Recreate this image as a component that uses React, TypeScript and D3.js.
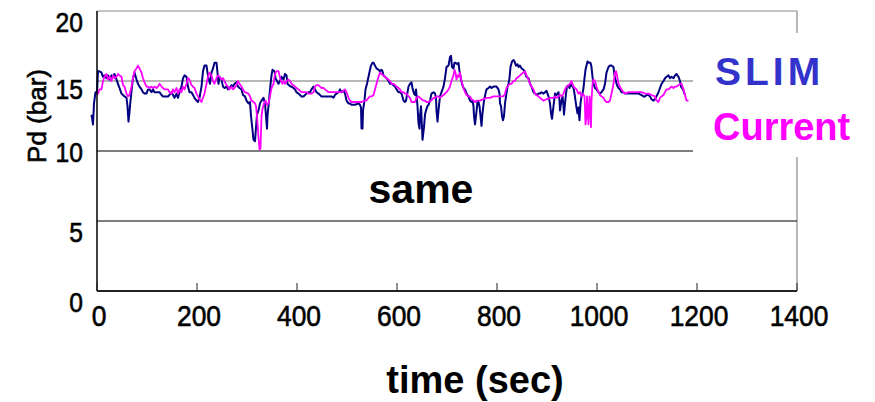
import React from 'react';
import * as d3 from 'd3';

const W = 875;
const H = 402;
const FONT = '"Liberation Sans", Arial, Helvetica, sans-serif';

// axis ticks
const xTicks = [0, 200, 400, 600, 800, 1000, 1200, 1400];
const yTicks = [0, 5, 10, 15, 20];
// the labels in the original sit a bit below their lines (10 is the odd one)
const yLabelDrop = [21, 21, 11, 18, 21];

// Pd (bar) over time (sec)
const slimPd: [number, number][] = [
  [-11, 12.6], [-8, 11.9], [-6, 13.4], [-3, 14.2], [0, 14.2], [2, 15.7], [5, 15.7], [9, 15.6], [12, 15.3], [15, 15.4],
  [19, 15.2], [22, 15.4], [25, 15.1], [29, 15.4], [32, 15.3], [35, 15.5], [39, 15.1], [42, 14.8], [45, 14.5], [49, 14.1],
  [52, 14.0], [55, 13.9], [59, 13.8], [61, 13.2], [63, 12.1], [65, 12.8], [67, 13.6], [70, 14.6], [72, 15.2], [75, 15.6],
  [79, 15.1], [82, 14.8], [85, 14.6], [89, 14.4], [92, 14.2], [95, 14.1], [99, 14.1], [102, 14.4], [105, 14.4], [109, 14.2],
  [112, 14.4], [115, 14.2], [122, 14.2], [125, 14.2], [129, 14.0], [132, 13.9], [135, 13.9], [142, 13.9], [145, 14.0], [149, 14.2],
  [152, 14.0], [155, 13.8], [159, 14.1], [162, 13.8], [165, 14.2], [169, 14.6], [172, 15.2], [175, 15.4], [179, 15.3], [182, 14.6],
  [185, 14.2], [189, 14.2], [192, 14.0], [195, 13.8], [199, 13.6], [202, 13.5], [205, 13.8], [209, 14.6], [212, 15.7], [215, 16.1],
  [219, 16.1], [221, 15.6], [223, 15.2], [226, 14.8], [229, 15.6], [232, 15.9], [235, 16.3], [239, 16.3], [241, 15.6], [243, 14.8],
  [245, 15.3], [249, 15.1], [252, 14.6], [255, 14.5], [259, 14.6], [262, 14.4], [265, 14.5], [269, 14.7], [272, 14.6], [275, 14.8],
  [279, 14.9], [282, 14.6], [285, 14.5], [289, 14.4], [292, 14.0], [296, 13.9], [299, 13.6], [303, 13.4], [306, 13.5], [308, 12.5],
  [311, 11.5], [313, 10.8], [316, 10.7], [318, 11.7], [320, 12.6], [323, 12.9], [326, 13.4], [329, 13.6], [333, 13.8], [336, 13.4],
  [338, 12.5], [340, 11.6], [341, 12.5], [344, 13.6], [346, 14.4], [349, 15.4], [351, 15.8], [355, 15.7], [357, 15.2], [360, 15.0],
  [363, 14.8], [366, 15.0], [369, 15.3], [373, 15.1], [376, 15.5], [379, 15.4], [381, 14.8], [384, 14.7], [387, 14.6], [389, 14.6],
  [393, 14.5], [396, 14.4], [399, 14.2], [403, 14.1], [406, 14.0], [409, 13.9], [413, 13.9], [416, 14.0], [419, 14.1], [423, 14.2],
  [426, 14.2], [429, 14.4], [433, 14.6], [436, 14.4], [439, 14.2], [443, 14.1], [446, 14.0], [449, 13.9], [456, 13.9], [463, 13.9],
  [469, 13.9], [473, 13.8], [476, 14.0], [479, 14.1], [483, 14.2], [486, 14.4], [489, 14.2], [493, 14.3], [496, 14.1], [499, 13.6],
  [503, 13.4], [506, 13.4], [509, 13.3], [516, 13.3], [523, 13.4], [526, 13.3], [528, 13.1], [529, 11.6], [531, 11.6], [532, 12.9],
  [535, 13.6], [537, 14.4], [540, 14.8], [543, 15.3], [546, 15.8], [548, 16.1], [551, 16.3], [553, 16.3], [556, 16.1], [559, 15.9],
  [563, 15.8], [566, 15.7], [569, 15.8], [571, 15.7], [573, 15.4], [576, 15.3], [579, 15.2], [583, 15.0], [586, 14.8], [589, 14.8],
  [593, 14.7], [596, 14.6], [599, 14.4], [603, 14.2], [606, 14.2], [609, 14.1], [613, 13.6], [616, 13.5], [618, 13.6], [621, 14.2],
  [623, 14.6], [626, 14.8], [629, 14.9], [631, 14.5], [634, 14.1], [636, 14.0], [638, 14.4], [641, 13.2], [643, 12.0], [645, 11.6],
  [646, 12.5], [648, 13.2], [650, 11.7], [651, 10.8], [654, 11.7], [656, 12.6], [658, 12.9], [661, 13.2], [663, 13.3], [666, 13.6],
  [669, 14.1], [673, 14.2], [676, 14.1], [678, 13.8], [679, 12.9], [681, 12.1], [683, 12.9], [686, 13.9], [689, 14.2], [693, 14.6],
  [696, 15.2], [699, 16.0], [703, 16.1], [705, 16.5], [706, 16.7], [708, 16.8], [710, 16.0], [713, 15.9], [715, 16.3], [717, 16.3],
  [721, 16.2], [723, 16.3], [725, 15.7], [727, 15.3], [730, 14.8], [733, 14.5], [736, 14.4], [739, 14.1], [743, 13.9], [746, 13.6],
  [749, 13.5], [751, 13.6], [753, 13.2], [754, 12.5], [756, 11.9], [758, 12.5], [761, 13.5], [763, 13.5], [765, 13.2], [767, 12.5],
  [769, 11.8], [771, 12.7], [774, 13.6], [777, 14.1], [779, 14.4], [783, 14.5], [786, 14.6], [789, 14.5], [793, 14.6], [796, 14.6],
  [799, 14.6], [803, 14.4], [805, 14.1], [806, 13.4], [808, 13.2], [810, 12.5], [812, 12.2], [814, 12.5], [816, 13.4], [818, 13.9],
  [821, 14.6], [823, 14.8], [825, 15.2], [827, 16.0], [830, 16.4], [833, 16.5], [835, 16.4], [838, 16.1], [841, 16.2], [843, 16.0],
  [846, 16.1], [849, 15.9], [853, 15.8], [856, 15.6], [859, 15.3], [863, 15.2], [866, 14.8], [869, 14.6], [873, 14.2], [876, 14.1],
  [879, 14.0], [883, 14.1], [886, 14.1], [889, 14.2], [893, 14.1], [896, 14.2], [899, 14.3], [903, 13.9], [906, 13.4], [908, 12.7],
  [910, 12.3], [913, 13.2], [916, 14.1], [919, 14.0], [923, 14.2], [925, 13.6], [926, 12.9], [928, 13.4], [931, 13.9], [933, 13.2],
  [934, 12.6], [936, 13.4], [938, 14.1], [940, 14.6], [943, 14.7], [945, 14.5], [947, 14.8], [949, 14.7], [953, 14.5], [955, 14.1],
  [957, 13.6], [959, 13.1], [961, 12.7], [963, 13.1], [964, 12.5], [965, 12.2], [967, 13.4], [969, 13.9], [971, 14.1], [973, 14.5],
  [975, 15.2], [977, 15.8], [979, 16.1], [981, 16.4], [984, 16.3], [987, 16.3], [989, 16.0], [991, 15.3], [993, 14.8], [996, 14.5],
  [999, 14.4], [1003, 14.2], [1006, 14.1], [1009, 14.2], [1013, 14.4], [1016, 14.8], [1019, 15.6], [1023, 16.0], [1026, 16.1], [1029, 16.1],
  [1033, 16.0], [1035, 15.4], [1037, 15.1], [1040, 14.7], [1043, 14.5], [1046, 14.4], [1049, 14.2], [1053, 14.2], [1056, 14.1], [1063, 14.1],
  [1069, 14.1], [1076, 14.1], [1083, 14.1], [1089, 14.0], [1093, 13.9], [1096, 13.9], [1099, 14.0], [1103, 14.0], [1106, 13.9], [1109, 13.7],
  [1113, 13.6], [1116, 13.7], [1119, 13.9], [1123, 14.2], [1126, 14.5], [1129, 14.8], [1133, 15.0], [1136, 15.2], [1139, 15.3], [1143, 15.4],
  [1146, 15.2], [1149, 15.3], [1153, 15.2], [1156, 15.4], [1159, 15.5], [1163, 15.3], [1166, 15.0], [1168, 14.6], [1172, 14.4], [1176, 14.0],
];

const currentPd: [number, number][] = [
  [0, 14.0], [2, 14.1], [5, 14.4], [9, 14.4], [12, 15.0], [15, 15.3], [19, 15.5], [22, 15.1], [25, 15.3], [29, 15.0],
  [32, 15.4], [35, 15.2], [39, 15.3], [42, 15.5], [45, 15.4], [49, 15.3], [52, 14.7], [55, 14.6], [59, 14.1], [62, 13.9],
  [65, 14.0], [69, 14.6], [72, 15.2], [75, 15.7], [79, 15.9], [82, 16.1], [85, 15.9], [89, 15.6], [92, 15.2], [95, 14.9],
  [99, 14.6], [102, 14.6], [105, 14.5], [109, 14.6], [112, 14.5], [115, 14.6], [119, 14.5], [122, 14.6], [125, 14.8], [129, 14.6],
  [132, 14.5], [135, 14.4], [142, 14.4], [145, 14.2], [149, 14.1], [152, 14.4], [155, 14.2], [159, 14.5], [162, 14.1], [165, 14.4],
  [169, 14.2], [172, 14.6], [175, 14.4], [179, 14.8], [182, 15.2], [185, 15.1], [189, 14.7], [192, 14.6], [195, 14.5], [199, 14.1],
  [202, 13.9], [205, 13.7], [209, 13.5], [212, 13.8], [215, 14.1], [219, 14.8], [222, 15.3], [225, 15.6], [229, 15.4], [232, 15.0],
  [235, 14.8], [239, 15.2], [242, 15.4], [245, 15.3], [249, 15.1], [252, 15.2], [255, 15.0], [259, 14.7], [262, 14.6], [265, 14.4],
  [269, 14.6], [272, 14.4], [275, 14.5], [279, 14.7], [282, 15.0], [285, 14.8], [289, 14.6], [292, 14.4], [296, 14.2], [303, 14.1],
  [306, 13.9], [309, 13.6], [313, 13.5], [316, 13.4], [318, 13.2], [320, 12.5], [323, 11.0], [325, 10.1], [327, 10.2], [328, 11.3],
  [329, 12.5], [331, 13.0], [334, 13.4], [337, 13.6], [340, 13.3], [343, 13.4], [346, 13.9], [349, 14.5], [353, 14.8], [355, 15.3],
  [357, 15.6], [360, 15.7], [363, 15.7], [365, 15.4], [368, 15.0], [371, 14.8], [373, 15.0], [376, 14.8], [379, 15.0], [383, 15.1],
  [386, 15.0], [389, 14.8], [393, 14.7], [396, 14.6], [399, 14.5], [403, 14.4], [406, 14.3], [409, 14.2], [413, 14.2], [416, 14.2],
  [419, 14.2], [423, 14.1], [429, 14.1], [433, 14.2], [436, 14.6], [439, 14.7], [443, 14.7], [446, 14.6], [449, 14.5], [453, 14.5],
  [456, 14.4], [463, 14.2], [466, 14.2], [476, 14.2], [483, 14.2], [489, 14.2], [496, 14.4], [499, 14.2], [503, 13.8], [506, 13.6],
  [509, 13.5], [516, 13.5], [523, 13.5], [529, 13.5], [536, 13.6], [539, 13.6], [543, 13.8], [546, 13.9], [549, 13.9], [553, 14.0],
  [556, 14.4], [559, 14.8], [563, 15.3], [566, 15.6], [569, 15.5], [573, 15.4], [576, 15.3], [579, 15.2], [583, 15.1], [586, 15.0],
  [589, 14.8], [593, 14.8], [596, 14.7], [599, 14.6], [603, 14.5], [606, 14.4], [609, 14.2], [613, 14.2], [616, 14.1], [619, 14.1],
  [623, 13.9], [626, 13.8], [629, 13.5], [633, 13.5], [636, 13.5], [639, 13.8], [643, 13.9], [646, 13.8], [649, 13.7], [653, 13.6],
  [656, 13.6], [659, 13.5], [663, 13.5], [666, 13.6], [669, 13.6], [673, 13.8], [676, 13.8], [679, 13.9], [683, 13.9], [686, 13.8],
  [689, 13.9], [693, 14.0], [696, 14.1], [699, 14.2], [703, 14.4], [706, 14.6], [709, 15.0], [713, 15.4], [715, 15.8], [717, 15.6],
  [719, 15.1], [721, 15.4], [723, 15.3], [726, 15.6], [729, 15.0], [733, 14.5], [736, 14.2], [739, 14.0], [743, 13.9], [746, 13.9],
  [749, 13.7], [753, 13.6], [756, 13.5], [759, 13.6], [766, 13.6], [773, 13.7], [779, 13.8], [786, 13.8], [793, 13.9], [799, 13.9],
  [806, 13.9], [813, 13.9], [816, 14.1], [819, 14.5], [823, 14.7], [826, 14.8], [829, 14.8], [833, 15.0], [836, 15.0], [839, 15.2],
  [843, 15.3], [846, 15.4], [849, 15.5], [853, 15.6], [856, 15.7], [859, 15.4], [863, 15.1], [866, 14.8], [869, 14.6], [873, 14.4],
  [876, 14.1], [879, 14.0], [883, 13.9], [886, 13.8], [889, 13.7], [893, 13.6], [899, 13.7], [906, 13.8], [913, 13.8], [916, 13.9],
  [919, 13.8], [923, 13.9], [926, 14.0], [929, 13.9], [933, 14.1], [936, 14.4], [939, 14.6], [943, 14.7], [946, 14.8], [949, 15.0],
  [953, 14.6], [956, 14.5], [959, 14.4], [963, 14.1], [966, 14.2], [969, 13.9], [972, 14.1], [975, 13.9], [976, 13.1], [977, 11.9],
  [979, 12.5], [980, 13.9], [981, 13.1], [983, 11.9], [984, 12.7], [985, 13.9], [987, 12.9], [988, 11.7], [989, 13.6], [991, 14.8],
  [993, 15.1], [996, 15.0], [999, 14.6], [1003, 14.2], [1006, 14.0], [1009, 13.9], [1013, 13.8], [1016, 13.6], [1019, 13.5], [1023, 13.5],
  [1026, 13.6], [1029, 14.1], [1033, 14.8], [1036, 15.6], [1038, 15.7], [1040, 15.4], [1043, 14.8], [1046, 14.6], [1049, 14.4], [1053, 14.2],
  [1056, 14.1], [1063, 14.2], [1069, 14.2], [1076, 14.2], [1083, 14.2], [1089, 14.2], [1096, 14.1], [1103, 14.1], [1109, 14.0], [1116, 13.9],
  [1119, 13.6], [1123, 13.5], [1126, 13.8], [1129, 13.9], [1133, 14.0], [1136, 14.2], [1139, 14.4], [1143, 14.4], [1146, 14.5], [1149, 14.6],
  [1153, 14.5], [1156, 14.6], [1159, 14.6], [1163, 14.7], [1166, 14.8], [1169, 14.8], [1173, 14.4], [1176, 14.0], [1179, 13.6], [1183, 13.6],
];

const series = [
  { name: 'SLIM', data: slimPd, color: '#000080', width: 2 },
  { name: 'Current', data: currentPd, color: '#ff00ff', width: 1.8 },
];

const plot = { left: 97, right: 797, top: 11, bottom: 291 };

export default function App() {
  const x = d3.scaleLinear().domain([0, 1400]).range([plot.left, plot.right]);
  const y = d3.scaleLinear().domain([0, 20]).range([plot.bottom, plot.top]);
  const line = d3.line<[number, number]>().x(d => x(d[0])).y(d => y(d[1]));

  // labels in the source are a touch heavier than a plain regular face
  const heavy = { stroke: '#000', strokeWidth: 0.6 };

  return (
    <div style={{ position: 'absolute', left: 0, top: 0, width: W, height: H, background: '#fff' }}>
      <svg width={W} height={H} style={{ display: 'block', fontFamily: FONT }}>
        <rect width={W} height={H} fill="#fff" />

        {/* frame: top/right in gray */}
        <line x1={plot.left} x2={plot.right} y1={plot.top} y2={plot.top} stroke="#888" strokeWidth={1.2} />
        <line x1={plot.right} x2={plot.right} y1={plot.top} y2={plot.bottom} stroke="#888" strokeWidth={1.2} />

        {/* grid lines */}
        {yTicks.filter(v => v > 0 && v < 20).map(v => (
          <line key={v} x1={plot.left} x2={plot.right} y1={y(v)} y2={y(v)}
            stroke={v === 15 ? '#707070' : '#000'} strokeWidth={1.2} />
        ))}

        {series.map(s => (
          <path key={s.name} d={line(s.data) || ''} fill="none" stroke={s.color}
            strokeWidth={s.width} strokeLinejoin="round" />
        ))}

        {/* axes */}
        <line x1={plot.left} x2={plot.left} y1={plot.top} y2={plot.bottom} stroke="#000" strokeWidth={1.5} />
        <line x1={plot.left} x2={plot.right} y1={plot.bottom} y2={plot.bottom} stroke="#222" strokeWidth={1.8} />
        {xTicks.map(t => (
          <line key={t} x1={x(t)} x2={x(t)} y1={plot.bottom} y2={plot.bottom - 8} stroke="#222" strokeWidth={1} />
        ))}

        {xTicks.map(t => (
          <text key={t} transform={`translate(${x(t) + 2},326) scale(0.88,1)`} textAnchor="middle"
            fontSize={30} fill="#000" {...heavy}>{t}</text>
        ))}
        {yTicks.map((v, i) => (
          <text key={v} transform={`translate(83,${y(v) + yLabelDrop[i]}) scale(0.88,1)`} textAnchor="end"
            fontSize={28} fill="#000" {...heavy}>{v}</text>
        ))}

        <text transform="translate(46,116) rotate(-90)" textAnchor="middle" fontSize={26} fill="#000" {...heavy}>Pd (bar)</text>
        <text x={475} y={393} textAnchor="middle" fontSize={38} fontWeight="bold" fill="#000">time (sec)</text>
        <text x={421} y={203} textAnchor="middle" fontSize={41} fontWeight="bold" fill="#000">same</text>

        {/* legend box sits over the grid and frame */}
        <rect x={693} y={33} width={W - 693} height={124} fill="#fff" />
        <text x={715} y={85} fontSize={39} fontWeight="bold" letterSpacing={4} fill="#3333cc">SLIM</text>
        <text x={713} y={140} fontSize={38} fontWeight="bold" fill="#ff00ff">Current</text>
      </svg>
    </div>
  );
}
